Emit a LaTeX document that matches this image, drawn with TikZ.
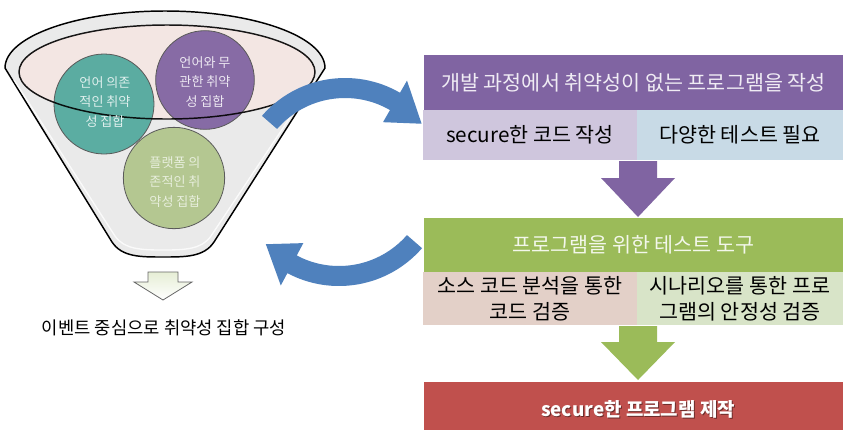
\documentclass[tikz,border=0pt]{standalone}
\usepackage{fontspec}
\setmainfont{Noto Sans CJK KR}
\usetikzlibrary{calc}
\definecolor{hdrPurple}{HTML}{8064A2}
\definecolor{subLav}{HTML}{CFC6DD}
\definecolor{subBlue}{HTML}{C8DAE6}
\definecolor{hdrGreen}{HTML}{9BBB59}
\definecolor{subRose}{HTML}{E3D0C8}
\definecolor{subSage}{HTML}{D8E4C8}
\definecolor{boxRed}{HTML}{C0504D}
\definecolor{arcBlue}{HTML}{4F81BD}
\definecolor{funnelGrey}{HTML}{EAEAEA}
\definecolor{rimPink}{HTML}{F3E6E3}
\definecolor{ballTeal}{HTML}{4FA89C}
\definecolor{ballPurple}{HTML}{7E61A0}
\definecolor{ballGreen}{HTML}{B0C58A}
\tikzset{
  band/.style={inner sep=0pt, outer sep=0pt, align=center,
    font=\fontsize{15.5}{19.5}\selectfont},
  wide/.style={band, minimum width=314.25pt},
  half/.style={band, minimum width=160.5pt},
  halfr/.style={band, minimum width=154.5pt},
  ball/.style={circle, draw=black!65, line width=0.6pt, fill opacity=0.92},
  balltext/.style={align=center, font=\fontsize{9.8}{14.6}\selectfont},
  arcfill/.style={fill=arcBlue},
}
% thick curved arrow around a centre: tail angle, head base angle, tip angle
\newcommand\bentarrow[4]{%
  \fill[arcfill] ($#1+(#2:110)$) arc[start angle=#2, end angle=#3, radius=110]
    -- ($#1+(#3:124)$) -- ($#1+(#4:100)$) -- ($#1+(#3:76)$) -- ($#1+(#3:90)$)
    arc[start angle=#3, end angle=#2, radius=90] -- cycle;}
\begin{document}
\begin{tikzpicture}[x=0.75pt,y=-0.75pt]
\useasboundingbox (0,0) rectangle (843,430);
\fill[white] (0,0) rectangle (843,430);

% ---------- funnel ----------
\draw[line width=1.1pt, fill=funnelGrey]
  (5,68) arc[start angle=180, end angle=360, x radius=160, y radius=57]
  -- (214,242) .. controls (204,257) and (186,257) .. (163,257)
  .. controls (140,257) and (122,257) .. (112,242) -- cycle;
\draw[white, line width=1pt, opacity=0.8]
  (14,80) -- (115,236) .. controls (124,249) and (140,250) .. (163,250)
  .. controls (186,250) and (202,249) .. (211,236) -- (315,80);
\fill[rimPink] (167,72) ellipse[x radius=148, y radius=47];

% ---------- vulnerability sets ----------
\node[ball, fill=ballTeal, minimum size=75pt] (bTeal) at (104,104) {};
\node[ball, fill=ballPurple, minimum size=74pt] (bPurple) at (205,80) {};
\node[ball, fill=ballGreen, minimum size=76pt] (bGreen) at (174,178) {};
\draw[line width=1.1pt, opacity=0.9] (167,72) ellipse[x radius=148, y radius=47];

\node[balltext, text=white!82!ballTeal] (tTeal) at (105,102) {언어 의존\\적인 취약\\성 집합};
\node[balltext, text=white!85!ballPurple] (tPurple) at (205,82) {언어와 무\\관한 취약\\성 집합};
\node[balltext, text=white!70!ballGreen] (tGreen) at (175,182) {플랫폼 의\\존적인 취\\약성 집합};

% ---------- output of the funnel ----------
\coordinate (fOut) at (163,272);
\draw[black!60, line width=0.6pt, top color=hdrGreen!25, bottom color=white]
  ($(fOut)+(-15,0)$) -- ($(fOut)+(15,0)$) -- ($(fOut)+(15,10)$) -- ($(fOut)+(29,10)$)
  -- ($(fOut)+(0,28)$) -- ($(fOut)+(-29,10)$) -- ($(fOut)+(-15,10)$) -- cycle;
\node[font=\fontsize{13.3}{15}\selectfont] (event) at (164,328) {이벤트 중심으로 취약성 집합 구성};

% ---------- development stage ----------
\node[wide, fill=hdrPurple, minimum height=41.25pt, text=white!88!hdrPurple] (dev) at (633.5,82.5)
  {개발 과정에서 취약성이 없는 프로그램을 작성};
\node[half, fill=subLav, minimum height=37.5pt] (code) at (530,135) {secure한 코드 작성};
\node[halfr, fill=subBlue, minimum height=37.5pt] (tests) at (740,135) {다양한 테스트 필요};

% ---------- testing stage ----------
\node[wide, fill=hdrGreen, minimum height=40.5pt, text=white!88!hdrGreen] (tool) at (633.5,245)
  {프로그램을 위한 테스트 도구};
\node[half, fill=subRose, minimum height=39.75pt] (src) at (530,298.5)
  {소스 코드 분석을 통한\\코드 검증};
\node[halfr, fill=subSage, minimum height=39.75pt] (scn) at (740,298.5)
  {시나리오를 통한 프로\\그램의 안정성 검증};

% ---------- result ----------
\node[wide, fill=boxRed, minimum height=36pt] (result) at (633.5,406) {};
\node[font=\fontsize{14.2}{17}\bfseries, text=black, opacity=0.45] at (639,410) {secure한 프로그램 제작};
\node[font=\fontsize{14.2}{17}\bfseries, text=white] (resultText) at (638,409) {secure한 프로그램 제작};

% ---------- stage arrows ----------
\coordinate (a1) at (638,161);
\fill[hdrPurple] ($(a1)+(-19,0)$) -- ($(a1)+(19,0)$) -- ($(a1)+(19,17)$) -- ($(a1)+(37,17)$)
  -- ($(a1)+(0,56)$) -- ($(a1)+(-37,17)$) -- ($(a1)+(-19,17)$) -- cycle;
\coordinate (a2) at (638,326);
\fill[hdrGreen] ($(a2)+(-19,0)$) -- ($(a2)+(19,0)$) -- ($(a2)+(19,16)$) -- ($(a2)+(37,16)$)
  -- ($(a2)+(0,54)$) -- ($(a2)+(-37,16)$) -- ($(a2)+(-19,16)$) -- cycle;

% ---------- feedback arrows ----------
\coordinate (c1) at (345,188);
\coordinate (c2) at (339,176);
\bentarrow{(c1)}{221}{300}{320}
\bentarrow{(c2)}{41}{118}{137}
\end{tikzpicture}
\end{document}
